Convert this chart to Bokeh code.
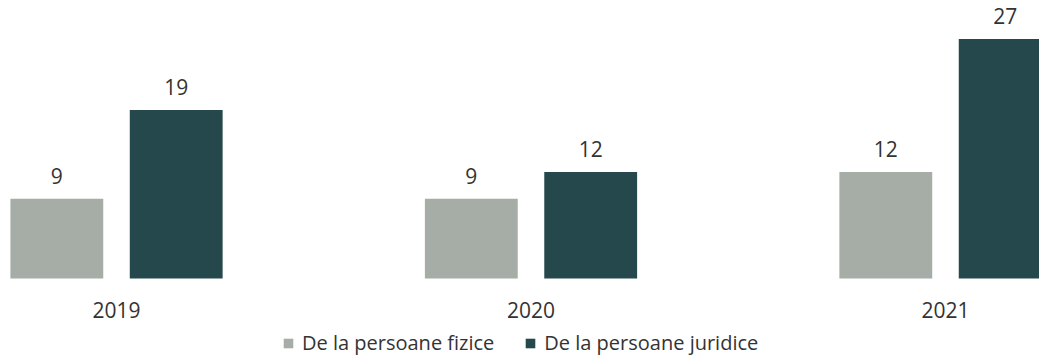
from bokeh.plotting import figure
from bokeh.models import ColumnDataSource, Range1d, LabelSet, Legend, LegendItem
from bokeh.core.properties import value
from bokeh.embed import file_html
from bokeh.resources import INLINE

years = ["2019", "2020", "2021"]
fizice = [9, 9, 12]
juridice = [19, 12, 27]
series_names = ["De la persoane fizice", "De la persoane juridice"]
colors = ["#a6ada6", "#24484b"]

pos = list(range(len(years)))
dodge = 0.144
bar_w = 0.224

src_f = ColumnDataSource(dict(x=[p_ - dodge for p_ in pos], y=fizice, lab=[str(v) for v in fizice]))
src_j = ColumnDataSource(dict(x=[p_ + dodge for p_ in pos], y=juridice, lab=[str(v) for v in juridice]))
src_c = ColumnDataSource(dict(x=pos, y=[0] * len(pos), lab=years))

FONT = "Open Sans"
TXT = "#333333"

p = figure(width=1039, height=356, output_backend="svg", toolbar_location=None,
           x_range=Range1d(-0.2799, 2.2268), y_range=Range1d(-8.794, 31.34),
           min_border_left=0, min_border_right=0, min_border_top=0, min_border_bottom=0)
p.outline_line_color = None
p.grid.visible = False
p.axis.visible = False
p.background_fill_color = "white"

r1 = p.vbar(x="x", top="y", width=bar_w, source=src_f, fill_color=colors[0], line_color=None)
r2 = p.vbar(x="x", top="y", width=bar_w, source=src_j, fill_color=colors[1], line_color=None)

for s in (src_f, src_j):
    p.add_layout(LabelSet(x="x", y="y", text="lab", source=s, y_offset=15,
                          text_align="center", text_baseline="alphabetic",
                          text_font=value(FONT), text_font_size=value("21px"), text_color=value(TXT)))

# category labels under each group
p.add_layout(LabelSet(x="x", y="y", text="lab", source=src_c, y_offset=-40,
                      text_align="center", text_baseline="alphabetic",
                      text_font=value(FONT), text_font_size=value("21px"), text_color=value(TXT)))

legend = Legend(items=[LegendItem(label=series_names[0], renderers=[r1]),
                       LegendItem(label=series_names[1], renderers=[r2])],
                orientation="horizontal", location=(282, 0),
                label_text_font=FONT, label_text_font_size="20px", label_text_color=TXT,
                glyph_width=12, glyph_height=12, spacing=30, padding=0, margin=0,
                label_standoff=8, border_line_color=None, background_fill_alpha=0)
p.add_layout(legend, "center")

open("out.html", "w").write(file_html(p, INLINE))
